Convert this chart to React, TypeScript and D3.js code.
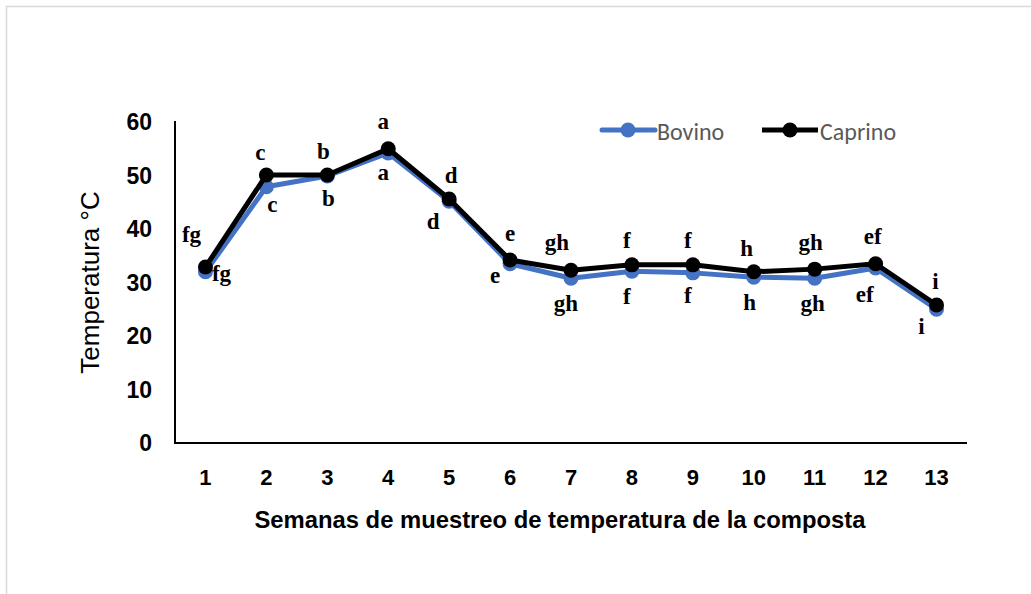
import React from "react";
import * as d3 from "d3";

const weeks = ["1", "2", "3", "4", "5", "6", "7", "8", "9", "10", "11", "12", "13"];
const bovino = [32.0, 47.9, 49.9, 54.2, 45.2, 33.5, 30.8, 32.1, 31.8, 31.0, 30.8, 32.7, 25.0];
const caprino = [32.9, 50.1, 50.1, 55.0, 45.6, 34.2, 32.3, 33.3, 33.3, 32.0, 32.5, 33.5, 25.8];
const bovinoLetters = ["fg", "c", "b", "a", "d", "e", "gh", "f", "f", "h", "gh", "ef", "i"];
const caprinoLetters = ["fg", "c", "b", "a", "d", "e", "gh", "f", "f", "h", "gh", "ef", "i"];
const yTicks = [0, 10, 20, 30, 40, 50, 60];

// label offsets (pixels) relative to points
const capOff: [number, number][] = [[-14, -32], [-6, -22], [-4, -23], [-5, -27], [2, -24], [0, -27], [-14, -28], [-5, -24], [-5, -24], [-7, -23], [-4, -27], [-3, -27], [-1, -23]];
const bovOff: [number, number][] = [[16, 2], [6, 18], [1, 22], [-5, 19], [-16, 20], [-15, 12], [-5, 25], [-5, 25], [-5, 23], [-4, 25], [-2, 25], [-11, 26], [-15, 17]];

export default function App() {
  const W = 1031, H = 594;
  const left = 175, right = 967, top = 122, bottom = 443;
  const x = d3.scaleBand().domain(weeks).range([left, right]);
  const y = d3.scaleLinear().domain([0, 60]).range([bottom, top]);
  const cx = (i: number) => (x(weeks[i]) as number) + x.bandwidth() / 2;
  const line = d3.line<number>().x((_, i) => cx(i)).y((d) => y(d));
  const blue = "#4472C4";
  const arial = "Liberation Sans, Arial, sans-serif";
  const serif = "Liberation Serif, Times New Roman, serif";
  const legendFont = "Carlito, Lato, Noto Sans, sans-serif";

  return (
    <svg width={W} height={H} style={{ position: "absolute", left: 0, top: 0, background: "#fff" }}>
      <rect x={6.5} y={6.5} width={1100} height={700} fill="#fff" stroke="#d9d9d9" strokeWidth={1.5} />
      {/* axes */}
      <line x1={left} y1={top - 1} x2={left} y2={bottom + 1} stroke="#000" strokeWidth={2} />
      <line x1={left - 1} y1={bottom} x2={right} y2={bottom} stroke="#000" strokeWidth={2} />
      {yTicks.map((t) => (
        <text key={t} x={152} y={y(t)} textAnchor="end" dominantBaseline="central" fontFamily={arial} fontWeight="bold" fontSize={23} fill="#000">{t}</text>
      ))}
      {weeks.map((w, i) => (
        <text key={w} x={cx(i)} y={477} textAnchor="middle" dominantBaseline="central" fontFamily={arial} fontWeight="bold" fontSize={22} fill="#000">{w}</text>
      ))}
      <text transform={`translate(90,${(top + bottom) / 2}) rotate(-90)`} textAnchor="middle" dominantBaseline="central" fontFamily={arial} fontSize={26} fill="#000">Temperatura °C</text>
      <text x={560} y={519} textAnchor="middle" dominantBaseline="central" fontFamily={arial} fontWeight="bold" fontSize={23.8} fill="#000">Semanas de muestreo de temperatura de la composta</text>

      {/* series */}
      <path d={line(bovino) || ""} fill="none" stroke={blue} strokeWidth={5} strokeLinejoin="round" />
      {bovino.map((v, i) => <circle key={"b" + i} cx={cx(i)} cy={y(v)} r={7.5} fill={blue} />)}
      <path d={line(caprino) || ""} fill="none" stroke="#000" strokeWidth={5} strokeLinejoin="round" />
      {caprino.map((v, i) => <circle key={"c" + i} cx={cx(i)} cy={y(v)} r={7.5} fill="#000" />)}

      {caprinoLetters.map((l, i) => (
        <text key={"cl" + i} x={cx(i) + capOff[i][0]} y={y(caprino[i]) + capOff[i][1]} textAnchor="middle" dominantBaseline="central" fontFamily={serif} fontWeight="bold" fontSize={23} fill="#000">{l}</text>
      ))}
      {bovinoLetters.map((l, i) => (
        <text key={"bl" + i} x={cx(i) + bovOff[i][0]} y={y(bovino[i]) + bovOff[i][1]} textAnchor="middle" dominantBaseline="central" fontFamily={serif} fontWeight="bold" fontSize={23} fill="#000">{l}</text>
      ))}

      {/* legend */}
      <line x1={602} y1={130} x2={655} y2={130} stroke={blue} strokeWidth={5} strokeLinecap="round" />
      <circle cx={628} cy={130} r={7.5} fill={blue} />
      <text x={657} y={131} dominantBaseline="central" fontFamily={legendFont} fontSize={24} fill="#595959">Bovino</text>
      <line x1={762} y1={130} x2={818} y2={130} stroke="#000" strokeWidth={5} />
      <circle cx={790} cy={130} r={7.5} fill="#000" />
      <text x={820} y={131} dominantBaseline="central" fontFamily={legendFont} fontSize={24} fill="#595959">Caprino</text>
    </svg>
  );
}
